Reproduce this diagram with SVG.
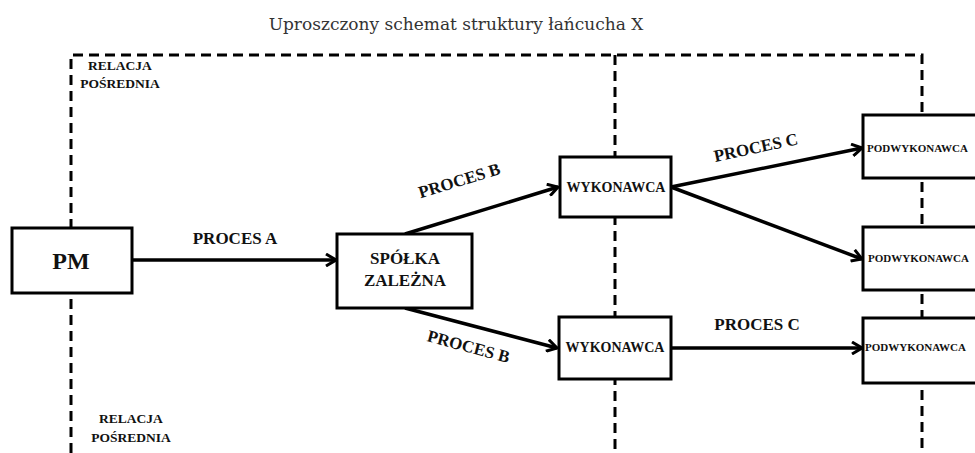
<svg xmlns="http://www.w3.org/2000/svg" width="975" height="453" viewBox="0 0 975 453">
<defs>
<marker id="arr" viewBox="0 0 12 14" refX="11" refY="7" markerWidth="12" markerHeight="14" orient="auto" markerUnits="userSpaceOnUse">
<path d="M1,1 L11,7 L1,13" fill="none" stroke="#000" stroke-width="3" stroke-linejoin="miter"/>
</marker>
<style>
.dash{fill:none;stroke:#000;stroke-width:3;stroke-dasharray:10 6}
.box{fill:#fff;stroke:#000;stroke-width:3}
.conn{fill:none;stroke:#000;stroke-width:3.5;marker-end:url(#arr)}
.lbl{font-family:"Liberation Serif","Times New Roman",serif;font-weight:bold;fill:#111;text-anchor:middle}
.title{font-family:"DejaVu Serif","Liberation Serif",serif;font-size:17px;fill:#333;text-anchor:middle}
</style>
</defs>
<rect width="975" height="453" fill="#fff"/>
<text class="title" x="456" y="30">Uproszczony schemat struktury łańcucha X</text>
<g id="frame">
<path class="dash" d="M71,453 V55 H922 V453"/>
<path class="dash" d="M615,55 V453"/>
</g>
<g id="relacja-top"><text class="lbl" style="font-size:13.5px" x="120" y="70">RELACJA</text><text class="lbl" style="font-size:13.5px" x="120" y="88">POŚREDNIA</text></g>
<g id="relacja-bottom"><text class="lbl" style="font-size:13.5px" x="131" y="423">RELACJA</text><text class="lbl" style="font-size:13.5px" x="131" y="442">POŚREDNIA</text></g>
<g id="connectors">
<line class="conn" x1="132" y1="260" x2="336" y2="260"/>
<line class="conn" x1="405" y1="234" x2="558" y2="187"/>
<line class="conn" x1="405" y1="308" x2="557" y2="348"/>
<line class="conn" x1="671" y1="187" x2="862" y2="148"/>
<line class="conn" x1="671" y1="187" x2="862" y2="259"/>
<line class="conn" x1="671" y1="348" x2="862" y2="348"/>
<text class="lbl" style="font-size:17px" x="235" y="244">PROCES A</text>
<text class="lbl" style="font-size:17px" transform="translate(461,186) rotate(-17)">PROCES B</text>
<text class="lbl" style="font-size:17px" transform="translate(467,352) rotate(15)">PROCES B</text>
<text class="lbl" style="font-size:17px" transform="translate(757,153) rotate(-12)">PROCES C</text>
<text class="lbl" style="font-size:17px" x="757" y="330">PROCES C</text>
</g>
<g id="pm"><rect class="box" x="12" y="228" width="120" height="65"/><text class="lbl" style="font-size:24px" x="71" y="269">PM</text></g>
<g id="spolka"><rect class="box" x="337" y="234" width="135" height="74"/><text class="lbl" style="font-size:17px" x="405" y="264">SPÓŁKA</text><text class="lbl" style="font-size:17px" x="405" y="286">ZALEŻNA</text></g>
<g id="wyk1"><rect class="box" x="560" y="157" width="111" height="60"/><text class="lbl" style="font-size:14px" x="616" y="192">WYKONAWCA</text></g>
<g id="wyk2"><rect class="box" x="559" y="317" width="112" height="62"/><text class="lbl" style="font-size:14px" x="615" y="352">WYKONAWCA</text></g>
<g id="pod1"><rect class="box" x="863" y="115" width="120" height="63"/><text class="lbl" style="font-size:11px;text-anchor:start" x="867" y="152">PODWYKONAWCA</text></g>
<g id="pod2"><rect class="box" x="863" y="227" width="120" height="63"/><text class="lbl" style="font-size:11px;text-anchor:start" x="868" y="262">PODWYKONAWCA</text></g>
<g id="pod3"><rect class="box" x="863" y="318" width="120" height="65"/><text class="lbl" style="font-size:11px;text-anchor:start" x="865" y="351">PODWYKONAWCA</text></g>
</svg>
